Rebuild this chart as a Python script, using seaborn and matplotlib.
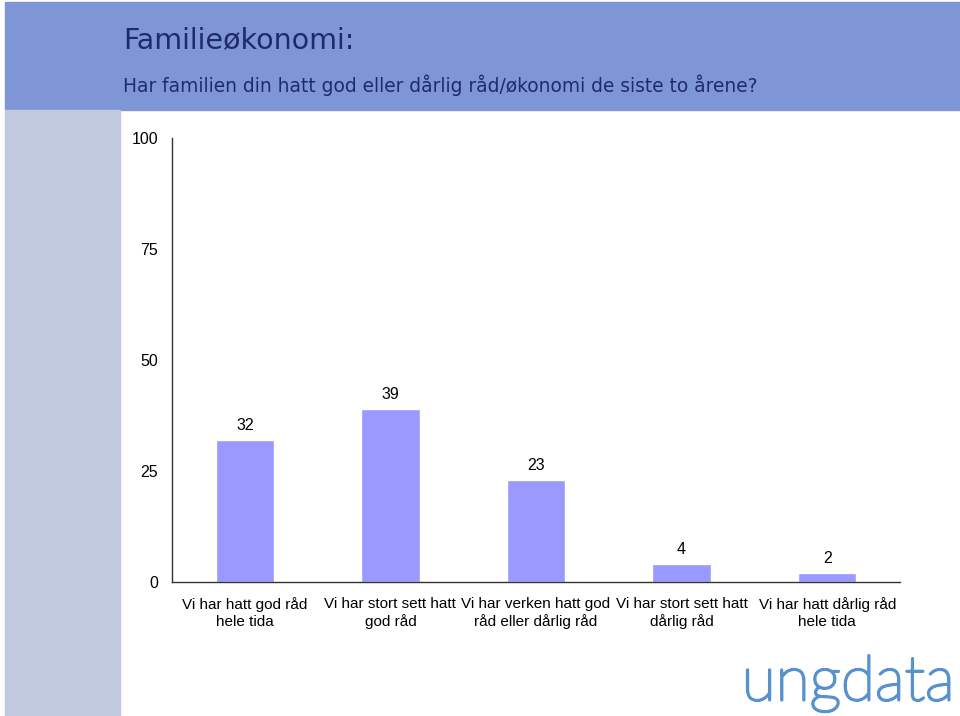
import matplotlib
matplotlib.use("Agg")
import matplotlib.pyplot as plt
import matplotlib.patheffects as pe
import seaborn as sns
import pandas as pd

categories = [
    "Vi har hatt god råd\nhele tida",
    "Vi har stort sett hatt\ngod råd",
    "Vi har verken hatt god\nråd eller dårlig råd",
    "Vi har stort sett hatt\ndårlig råd",
    "Vi har hatt dårlig råd\nhele tida",
]
values = [32, 39, 23, 4, 2]
yticks = [0, 25, 50, 75, 100]

df = pd.DataFrame({"kategori": categories, "prosent": values})

sns.set_style("white")
plt.rcParams["font.family"] = ["Liberation Sans", "DejaVu Sans"]

fig = plt.figure(figsize=(9.6, 7.16), dpi=100)

# Background bands
fig.patches.append(plt.Rectangle((5 / 960, 1 - 110 / 716), 1, 108 / 716,
                                 transform=fig.transFigure, color="#7f96d6", zorder=0))
fig.patches.append(plt.Rectangle((5 / 960, 0), 115 / 960, 1 - 110 / 716,
                                 transform=fig.transFigure, color="#c0c9dd", zorder=0))

fig.text(123 / 960, 1 - 40 / 716, "Familieøkonomi:", fontsize=20.5, color="#1f2a6b", va="center",
         family=["DejaVu Sans"])
fig.text(123 / 960, 1 - 85 / 716, "Har familien din hatt god eller dårlig råd/økonomi de siste to årene?",
         fontsize=13.4, color="#1f2a6b", va="center", family=["DejaVu Sans"])

ax = fig.add_axes([172 / 960, 1 - 582 / 716, (900 - 172) / 960, (582 - 138) / 716])
ax.set_facecolor("none")
sns.barplot(data=df, x="kategori", y="prosent", color="#9999ff", width=0.4, saturation=1, ax=ax)

for i, v in enumerate(values):
    ax.text(i, v + 1.6, str(v), ha="center", va="bottom", fontsize=11.5, color="black")

ax.set_ylim(0, 100)
ax.set_xlim(-0.5, len(values) - 0.5)
ax.set_yticks(yticks)
ax.set_yticklabels([str(t) for t in yticks], fontsize=11.5, color="black")
ax.set_xticks(range(len(values)))
ax.set_xticklabels(categories, fontsize=11, color="black", linespacing=1.25)
ax.set_xticks([i - 0.5 for i in range(len(values) + 1)], minor=True)
ax.tick_params(axis="x", which="major", length=0, pad=11)
ax.tick_params(axis="x", which="minor", length=5, width=1, direction="out", color="#333333")
ax.tick_params(axis="y", length=4, width=1, direction="out", color="#333333", pad=6)
ax.set_xlabel("")
ax.set_ylabel("")
for s in ["top", "right"]:
    ax.spines[s].set_visible(False)
for s in ["left", "bottom"]:
    ax.spines[s].set_color("#333333")
    ax.spines[s].set_linewidth(1)

logo = fig.text(955 / 960, 1 - 683 / 716, "ungdata", fontsize=45, color="#5792cc",
                ha="right", va="center", family=["Lato", "DejaVu Sans"], fontweight="light")
logo.set_path_effects([pe.Stroke(linewidth=1.8, foreground="#5792cc"), pe.Normal()])

fig.savefig("out.png", dpi=100)
